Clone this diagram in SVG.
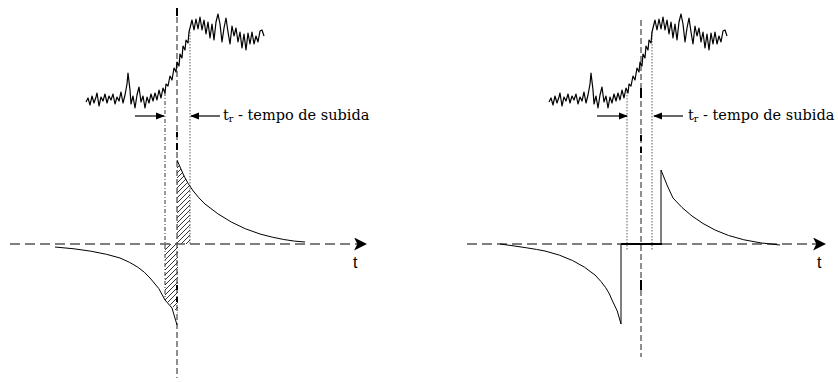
<svg xmlns="http://www.w3.org/2000/svg" width="838" height="382" viewBox="0 0 838 382">
<defs>
<style>
.axis{stroke:#555;stroke-width:1.4;stroke-dasharray:10,5;fill:none}
.vdash{stroke:#444;stroke-width:1.2;stroke-dasharray:6,3;fill:none}
.bold{stroke:#000;stroke-width:2;fill:none}
.dotted{stroke:#333;stroke-width:0.8;stroke-dasharray:1.5,1.5;fill:none}
.dashdot{stroke:#222;stroke-width:0.9;stroke-dasharray:4,2,1,2;fill:none}
.curve{stroke:#000;stroke-width:1;fill:none}
.sig{stroke:#000;stroke-width:1.2;fill:none;stroke-linejoin:round}
.arr{stroke:#000;stroke-width:1.2;fill:none}
.lbl{font-family:"DejaVu Serif","Liberation Serif",serif;font-size:14.5px;fill:#000}
.tl{font-family:"Liberation Sans","DejaVu Sans",sans-serif;font-size:16px;fill:#000}
</style>
<marker id="ah" viewBox="0 0 10 10" refX="9" refY="5" markerWidth="9" markerHeight="9" markerUnits="userSpaceOnUse" orient="auto">
<path d="M0,1 L10,5 L0,9 z" fill="#000"/>
</marker>
<marker id="axh" viewBox="0 0 12 12" refX="11" refY="6" markerWidth="13" markerHeight="13" markerUnits="userSpaceOnUse" orient="auto">
<path d="M0,0 L12,6 L0,12 L3,6 z" fill="#000"/>
</marker>
<pattern id="hatch" patternUnits="userSpaceOnUse" width="5" height="5">
<path d="M-1,1 L1,-1 M0,5 L5,0 M4,6 L6,4" stroke="#000" stroke-width="0.8"/>
</pattern>
<polyline id="noise" class="sig" points="86,102 88,98 90,105 92,96 94,103 96,97 97,93 99,106 101,97 103,101 105,94 107,103 109,96 111,100 113,94 115,104 117,97 119,101 121,92 123,103 125,95 127,84 128,73 130,90 131,104 133,96 135,108 137,95 139,87 141,102 143,96 145,108 147,97 149,103 151,94 153,101 155,93 157,100 159,90 161,98 163,88 165,93 166,84 168,86 170,76 172,80 174,68 176,72 177,62 179,66 180,54 182,58 183,46 185,50 186,40 188,43 189,32 190,28 192,20 194,30 196,19 198,29 200,17 202,30 204,20 206,34 208,22 210,38 212,24 214,40 216,22 218,14 220,24 222,42 224,28 226,18 228,32 230,44 232,26 234,36 236,28 238,42 240,32 242,48 244,34 246,50 248,33 250,44 252,32 254,44 256,36 258,42 260,31 262,30 264,36"/>
</defs>
<rect width="838" height="382" fill="#fff"/>

<g id="left-panel">
<g id="left-hatch">
<polygon points="177,244 190,244 190,188 184,175 177,160" fill="url(#hatch)"/>
<polygon points="165,244 178,244 178,313 172,306 165,300" fill="url(#hatch)"/>
</g>
<g id="left-guides">
<line class="axis" x1="10" y1="244" x2="366" y2="244" marker-end="url(#axh)"/>
<line class="vdash" x1="177" y1="8" x2="177" y2="378"/>
<path class="bold" d="M177,8 V16 M177,132 V137 M177,143 V150 M177,285 V290 M177,297 V302"/>
<line class="dashdot" x1="165" y1="92" x2="165" y2="300"/>
<line class="dotted" x1="190" y1="32" x2="190" y2="244"/>
</g>
<use href="#noise"/>
<g id="left-curves">
<path class="curve" d="M177,160 L184,176 Q192,192 205,204 Q230,225 260,234 Q285,241 305,242"/>
<path class="curve" d="M55,247 Q95,250 120,258 Q140,266 150,278 Q160,288 165,300 L172,308 L177,325"/>
</g>
<g id="left-arrows">
<line class="arr" x1="135" y1="116" x2="164" y2="116" marker-end="url(#ah)"/>
<line class="arr" x1="220" y1="116" x2="191" y2="116" marker-end="url(#ah)"/>
</g>
<text class="lbl" x="223" y="120">t<tspan font-size="9.5" dy="2">r</tspan><tspan dy="-2"> - tempo de subida</tspan></text>
<text class="tl" x="353" y="268">t</text>
</g>

<g id="right-panel">
<g id="right-guides">
<line class="axis" x1="467" y1="244" x2="825" y2="244" marker-end="url(#axh)"/>
<line class="vdash" x1="641" y1="20" x2="641" y2="357"/>
<path class="bold" d="M641,88 V98 M641,135 V141 M641,147 V153 M641,280 V290"/>
<line class="dotted" x1="627" y1="92" x2="627" y2="250"/>
<line class="dotted" x1="652" y1="32" x2="652" y2="250"/>
</g>
<use href="#noise" transform="translate(463,0)"/>
<g id="right-curves">
<path class="curve" d="M500,244 Q530,248 545,251 Q575,258 595,275 Q608,288 612,300 Q618,310 621,324 L621,244"/>
<line x1="621" y1="244" x2="662" y2="244" stroke="#000" stroke-width="2"/>
<path class="curve" d="M661,244 L661,170 Q667,186 673,198 Q690,218 715,230 Q740,242 780,245"/>
</g>
<g id="right-arrows">
<line class="arr" x1="597" y1="116" x2="627" y2="116" marker-end="url(#ah)"/>
<line class="arr" x1="683" y1="116" x2="654" y2="116" marker-end="url(#ah)"/>
</g>
<text class="lbl" x="688" y="120">t<tspan font-size="9.5" dy="2">r</tspan><tspan dy="-2"> - tempo de subida</tspan></text>
<text class="tl" x="817" y="268">t</text>
</g>
</svg>
